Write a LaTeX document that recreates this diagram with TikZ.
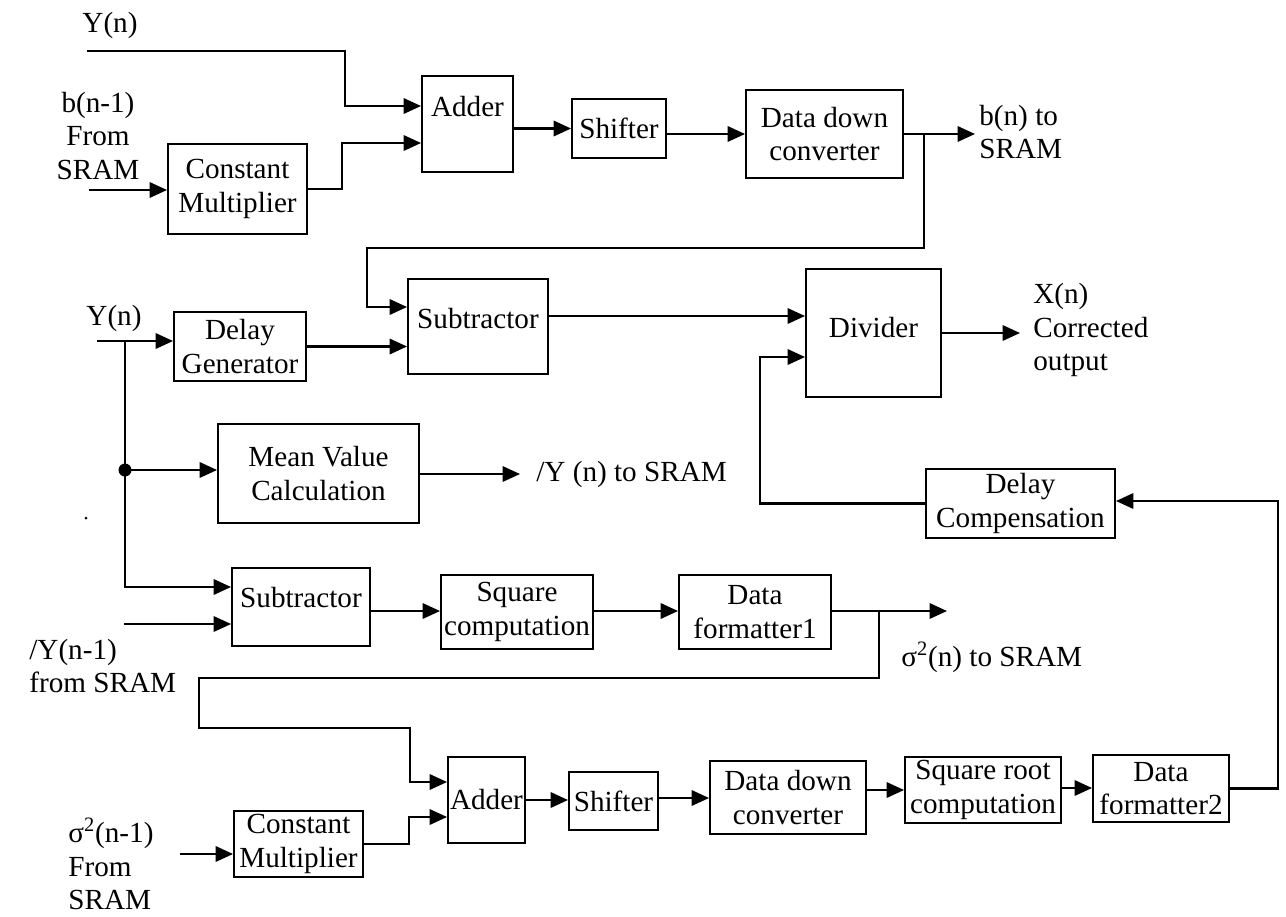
\documentclass[tikz,border=0pt]{standalone}
\usepackage{fontspec}
\setmainfont{Liberation Serif}
\usepackage{tikz}
\usetikzlibrary{arrows.meta}
\tikzset{>={Triangle[length=3.5mm,width=3.1mm]}}
\tikzset{
  blk/.style={draw, line width=1.1pt, align=center, inner sep=0pt,
              font=\fontsize{16.6}{19}\selectfont},
  txt/.style={align=left, inner sep=0pt, font=\fontsize{16.6}{19}\selectfont},
  wire/.style={line width=1.2pt, ->},
  every label/.style={inner sep=0pt, font=\fontsize{16.6}{19}\selectfont},
}

\begin{document}
\begin{tikzpicture}[x=0.2mm, y=-0.2mm]
            \useasboundingbox (0,0) rectangle (1286,916);
            % upper chain: b(n)
            \node[blk, minimum width=27.8mm, minimum height=18mm] (cm1) at (237.5,189) {Constant\\Multiplier};
            \node[blk, minimum width=18.2mm, minimum height=19.2mm, label={[yshift=3.4mm]center:Adder}] (add1) at (467.5,124) {};
            \node[blk, minimum width=18.8mm, minimum height=11.8mm] (sh1) at (619,128.5) {Shifter};
            \node[blk, minimum width=31.4mm, minimum height=17.6mm] (ddc1) at (824.5,134) {Data down\\converter};
            % middle: correction
            \node[blk, minimum width=26.4mm, minimum height=13.8mm] (dg) at (240,346.5) {Delay\\Generator};
            \node[blk, minimum width=28mm, minimum height=19mm, label={[yshift=1.6mm]center:Subtractor}] (sub1) at (478,326.5) {};
            \node[blk, minimum width=27mm, minimum height=25.6mm, label={[yshift=1mm]center:Divider}] (div) at (873.5,333) {};
            \node[blk, minimum width=40.2mm, minimum height=19.8mm] (mv) at (318.5,473.5) {Mean Value\\Calculation};
            \node[blk, minimum width=37.8mm, minimum height=13.8mm] (dc) at (1020.5,503.5) {Delay\\Compensation};
            % lower chains: sigma
            \node[blk, minimum width=27.6mm, minimum height=15.6mm, label={[yshift=1.8mm]center:Subtractor}] (sub2) at (301,607) {};
            \node[blk, minimum width=30.4mm, minimum height=14.8mm] (sq) at (517,612) {Square\\computation};
            \node[blk, minimum width=30.4mm, minimum height=14.8mm] (df1) at (755,612) {Data\\formatter1};
            \node[blk, minimum width=25.8mm, minimum height=13.2mm] (cm2) at (298.5,844) {Constant\\Multiplier};
            \node[blk, minimum width=15.4mm, minimum height=17.2mm] (add2) at (486.5,800) {Adder};
            \node[blk, minimum width=17.8mm, minimum height=11.6mm] (sh2) at (613.5,801) {Shifter};
            \node[blk, minimum width=31.2mm, minimum height=14.6mm] (ddc2) at (788,797.5) {Data down\\converter};
            \node[blk, minimum width=31.2mm, minimum height=13.2mm] (sqr) at (983,790) {Square root\\computation};
            \node[blk, minimum width=27.2mm, minimum height=13.4mm] (df2) at (1161,788.5) {Data\\formatter2};

            % labels
            \node[txt] (lyn1) at (110,25) {Y(n)};
            \node[txt, align=center] (lbn1) at (98,136) {b(n-1)\\From\\SRAM};
            \node[txt, anchor=west] (lbn) at (979,132) {b(n) to\\SRAM};
            \node[txt] (lyn2) at (114,318) {Y(n)};
            \node[txt, anchor=west] (lmean) at (536,474) {/Y (n) to SRAM};
            \node[txt, anchor=west] (lxn) at (1033,330) {X(n)\\Corrected\\output};
            \node[txt, anchor=west] (lynm1) at (29,666) {/Y(n-1)\\from SRAM};
            \node[txt, anchor=west] (lsig) at (901,657) {σ\textsuperscript{2}(n) to SRAM};
            \node[txt, anchor=west] (lsig1) at (68,864) {σ\textsuperscript{2}(n-1)\\From\\SRAM};
            \fill (86,518) circle (0.3mm);

            % free ends
            \coordinate (yin1) at (87,51);
            \coordinate (bin) at (89,190);
            \coordinate (bout) at (975,134);
            \coordinate (br1) at (924,134);
            \coordinate (yin2) at (97,341);
            \coordinate (jn) at (125,341);
            \coordinate (dot) at (125,470);
            \coordinate (mout) at (520,474);
            \coordinate (xout) at (1020,333);
            \coordinate (yin3) at (124,624);
            \coordinate (sout) at (947,611);
            \coordinate (br2) at (879,611);
            \coordinate (cin2) at (180,854);

            % top connectors
            \draw[wire] (yin1) -- (345,51) -- (345,106) -- (add1.west |- 0,106);
            \draw[wire] (bin) -- (cm1.west |- bin);
            \draw[wire] (cm1.east) -| (342,143) -- (add1.west |- 0,143);
            \draw[wire] (add1.east |- sh1) -- (sh1.west);
            \draw[wire] (sh1.east |- ddc1) -- (ddc1.west);
            \draw[wire] (ddc1.east) -- (bout);
            \draw[wire] (br1) -- (924,248) -- (367,248) -- (367,307) -- (sub1.west |- 0,307);
            % middle connectors
            \draw[wire] (yin2) -- (dg.west |- yin2);
            \draw[wire] (dg.east) -- (sub1.west |- dg.east);
            \draw[wire] (sub1.east |- 0,316) -- (div.west |- 0,316);
            \draw[wire] (div.east) -- (xout);
            \draw[wire] (dc.west) -| (760,357) -- (div.west |- 0,357);
            \draw[wire] (jn) |- (sub2.west |- 0,587);
            \fill (dot) circle (1.3mm);
            \draw[wire] (dot) -- (mv.west |- dot);
            \draw[wire] (mv.east |- mout) -- (mout);
            % lower connectors
            \draw[wire] (yin3) -- (sub2.west |- yin3);
            \draw[wire] (sub2.east |- 0,611) -- (sq.west |- 0,611);
            \draw[wire] (sq.east |- 0,611) -- (df1.west |- 0,611);
            \draw[wire] (df1.east |- 0,611) -- (sout);
            \draw[wire] (br2) -- (879,678) -- (199,678) -- (199,728) -- (410,728) -- (410,782) -- (add2.west |- 0,782);
            \draw[wire] (cin2) -- (cm2.west |- cin2);
            \draw[wire] (cm2.east) -| (409,817) -- (add2.west |- 0,817);
            \draw[wire] (add2.east) -- (sh2.west |- add2.east);
            \draw[wire] (sh2.east |- 0,798) -- (ddc2.west |- 0,798);
            \draw[wire] (ddc2.east |- 0,790) -- (sqr.west |- 0,790);
            \draw[wire] (sqr.east |- 0,788) -- (df2.west |- 0,788);
            \draw[wire] (df2.east) -- (1278,788.5) -- (1278,501) -- (dc.east |- 0,501);
        \end{tikzpicture}
\end{document}
